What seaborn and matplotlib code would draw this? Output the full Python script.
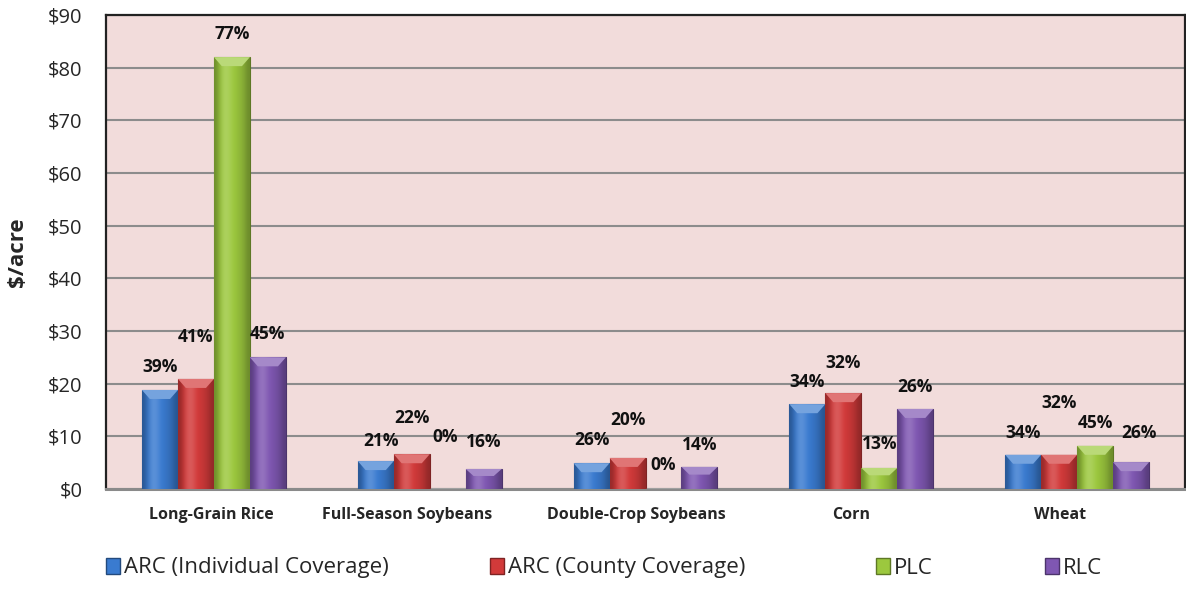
import numpy as np
import pandas as pd
import matplotlib
matplotlib.use("Agg")
import matplotlib.pyplot as plt
import matplotlib.colors as mcolors
import matplotlib.transforms as mtransforms
from matplotlib.patches import Polygon, Patch
import seaborn as sns

# ---- data -------------------------------------------------------------
crops = ["Long-Grain Rice", "Full-Season Soybeans", "Double-Crop Soybeans", "Corn", "Wheat"]
programs = ["ARC (Individual Coverage)", "ARC (County Coverage)", "PLC", "RLC"]

arc_individual = [18.8, 5.3, 4.9, 16.1, 6.5]
arc_county = [20.9, 6.6, 5.9, 18.2, 6.5]
plc = [82.0, 0.0, 0.0, 4.0, 8.2]
rlc = [25.0, 3.8, 4.2, 15.2, 5.1]

pct_arc_individual = ["39%", "21%", "26%", "34%", "34%"]
pct_arc_county = ["41%", "22%", "20%", "32%", "32%"]
pct_plc = ["77%", "0%", "0%", "13%", "45%"]
pct_rlc = ["45%", "16%", "14%", "26%", "26%"]

y_ticks = [0, 10, 20, 30, 40, 50, 60, 70, 80, 90]

values = [arc_individual, arc_county, plc, rlc]
pct_labels = [pct_arc_individual, pct_arc_county, pct_plc, pct_rlc]

df = pd.DataFrame({
    "crop": crops * len(programs),
    "program": np.repeat(programs, len(crops)),
    "value": np.concatenate(values),
})

# ---- style ------------------------------------------------------------
sns.set_theme(style="white")
plt.rcParams["font.family"] = ["Open Sans", "DejaVu Sans"]

colors = ["#3a7bd0", "#d23a3a", "#9cc83e", "#7f57b2"]
bg = "#f2dcdb"
grid_c = "#8c8c8c"

fig = plt.figure(figsize=(11.86, 5.98), dpi=100)
ax = fig.add_axes([106 / 1186, 1 - 489 / 598, 1079 / 1186, 474 / 598])
ax.set_facecolor(bg)

sns.barplot(data=df, x="crop", y="value", hue="program", order=crops,
            hue_order=programs, palette=colors, width=0.667,
            saturation=1, errorbar=None, legend=False, ax=ax, zorder=3)

ax.set_ylim(0, 90)
ax.set_xlim(-0.5, len(crops) - 0.5)
ax.set_yticks(y_ticks)
ax.set_yticklabels([f"${t}" for t in y_ticks], fontsize=14.5)
ax.yaxis.grid(True, color=grid_c, linewidth=1.5, zorder=0)
ax.set_axisbelow(True)
ax.tick_params(axis="y", length=0, pad=17)
ax.tick_params(axis="x", length=0, pad=13)
ax.set_xlabel("")
ax.set_ylabel("$/acre", fontsize=16, fontweight="bold")
ax.yaxis.set_label_coords(-78 / 1079, 0.5)

# category labels, nudged slightly as laid out on the page
label_shift_px = [-3, -23, -9, -10, -17]
ax.set_xticks(range(len(crops)))
ax.set_xticklabels(crops, fontsize=11.5, fontweight="bold")
for lab, dx in zip(ax.get_xticklabels(), label_shift_px):
    lab.set_transform(lab.get_transform() +
                      mtransforms.ScaledTranslation(dx / 100, 0, fig.dpi_scale_trans))

for side in ["left", "top", "right"]:
    ax.spines[side].set_color("#222222")
    ax.spines[side].set_linewidth(1.6)
ax.spines["bottom"].set_color("#8a8a8a")
ax.spines["bottom"].set_linewidth(2.2)

# bevelled shading on each bar
px_per_unit = 474 / 90.0


def shade(c, f):
    r, g, b = mcolors.to_rgb(c)
    if f >= 1:
        return tuple(min(1, v + (1 - v) * (f - 1)) for v in (r, g, b))
    return tuple(v * f for v in (r, g, b))


profile = np.array([0.72, 0.9, 1.12, 1.18, 1.1, 1.0, 0.95, 0.9, 0.82, 0.7])
for cont, col in zip(ax.containers, colors):
    for bar in cont:
        x0, w, h = bar.get_x(), bar.get_width(), bar.get_height()
        if h <= 0:
            continue
        bar.set_edgecolor(shade(col, 0.6))
        bar.set_linewidth(0.8)
        img = np.array([[shade(col, f) for f in profile]])
        im = ax.imshow(img, extent=(x0, x0 + w, 0, h), aspect="auto",
                       interpolation="bicubic", zorder=3.1)
        im.set_clip_path(bar)
        bev = min(9 / px_per_unit, h * 0.35)
        inset = w * 0.22
        top = Polygon([(x0, h), (x0 + w, h), (x0 + w - inset, h - bev), (x0 + inset, h - bev)],
                      closed=True, facecolor=shade(col, 1.3), edgecolor="none", zorder=3.2)
        ax.add_patch(top)

# percentage labels above the bars
lift_px = [
    [23, 20, 23, 22, 22],
    [42, 36, 38, 30, 52],
    [23, 52, 24, 24, 23],
    [23, 27, 22, 22, 29],
]
shift_px = [
    [0, 5, 0, 0, 0],
    [0, 0, 0, 0, 0],
    [0, -3, 0, 0, 0],
    [0, 0, 0, 0, 8],
]
for i, cont in enumerate(ax.containers):
    for j, bar in enumerate(cont):
        cx = bar.get_x() + bar.get_width() / 2
        ax.annotate(pct_labels[i][j], (cx, bar.get_height()),
                    xytext=(shift_px[i][j] * 0.72, lift_px[i][j] * 0.72),
                    textcoords="offset points", ha="center", va="center",
                    fontsize=12.5, fontweight="bold", color="#111111", zorder=5)

# legend entries spread along the bottom
legend_x_px = [106, 490, 876, 1045]
for name, col, lx in zip(programs, colors, legend_x_px):
    handle = Patch(facecolor=col, edgecolor=shade(col, 0.6))
    fig.legend([handle], [name], loc="center left",
               bbox_to_anchor=(lx / 1186, 1 - 568 / 598), frameon=False,
               fontsize=16, handlelength=0.65, handleheight=0.7,
               handletextpad=0.15, borderpad=0, borderaxespad=0)

fig.savefig("out.png", dpi=100, facecolor="white")
